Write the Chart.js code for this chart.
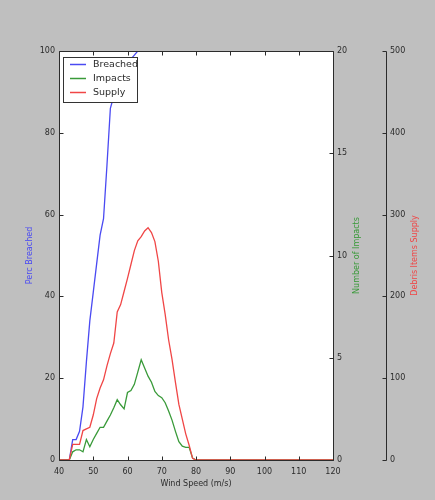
<!DOCTYPE html>
<html>
<head>
<meta charset="utf-8">
<script src="https://cdn.jsdelivr.net/npm/chart.js@4.4.0/dist/chart.umd.min.js"></script>
<style>
  html, body { margin: 0; padding: 0; background: #bfbfbf; }
  #chart { display: block; }
</style>
</head>
<body>
<canvas id="chart" width="435" height="500"></canvas>
<script>
// wind speed (m/s), one sample per 1 m/s
const windSpeed = [
  40, 41, 42, 43, 44, 45, 46, 47, 48, 49,
  50, 51, 52, 53, 54, 55, 56, 57, 58, 59,
  60, 61, 62, 63, 64, 65, 66, 67, 68, 69,
  70, 71, 72, 73, 74, 75, 76, 77, 78, 79,
  80, 81, 82, 83, 84, 85, 86, 87, 88, 89,
  90, 91, 92, 93, 94, 95, 96, 97, 98, 99,
  100, 101, 102, 103, 104, 105, 106, 107, 108, 109,
  110, 111, 112, 113, 114, 115, 116, 117, 118, 119,
  120
];

// percent breached
const breached = [
  0, 0, 0, 0, 5, 5, 7, 13, 24, 34,
  41, 48, 55, 59, 72, 86, 89, 91, 93, 95,
  97, 98, 99, 100, 100, 100, 100, 100, 100, 100,
  100, 100, 100, 100, 100, 100, 100, 100, 100, 100,
  100, 100, 100, 100, 100, 100, 100, 100, 100, 100,
  100, 100, 100, 100, 100, 100, 100, 100, 100, 100,
  100, 100, 100, 100, 100, 100, 100, 100, 100, 100,
  100, 100, 100, 100, 100, 100, 100, 100, 100, 100,
  100
];

// number of impacts
const impacts = [
  0, 0, 0, 0, 0.4, 0.5, 0.5, 0.4, 1.0, 0.65,
  1.0, 1.3, 1.6, 1.6, 1.9, 2.2, 2.55, 2.95, 2.7, 2.5,
  3.3, 3.4, 3.7, 4.3, 4.9, 4.5, 4.1, 3.8, 3.35, 3.15,
  3.05, 2.8, 2.4, 1.95, 1.4, 0.9, 0.68, 0.62, 0.62, 0.1,
  0, 0, 0, 0, 0, 0, 0, 0, 0, 0,
  0, 0, 0, 0, 0, 0, 0, 0, 0, 0,
  0, 0, 0, 0, 0, 0, 0, 0, 0, 0,
  0, 0, 0, 0, 0, 0, 0, 0, 0, 0,
  0
];

// debris items supply
const supply = [
  0, 0, 0, 0, 19, 19, 19, 36, 38, 40,
  55, 75, 88, 98, 115, 130, 143, 181, 190, 206,
  222, 239, 256, 268, 273, 280, 284, 278, 267, 243,
  205, 178, 147, 123, 95, 68, 50, 32, 18, 2,
  0, 0, 0, 0, 0, 0, 0, 0, 0, 0,
  0, 0, 0, 0, 0, 0, 0, 0, 0, 0,
  0, 0, 0, 0, 0, 0, 0, 0, 0, 0,
  0, 0, 0, 0, 0, 0, 0, 0, 0, 0,
  0
];

const xTicks = [40, 50, 60, 70, 80, 90, 100, 110, 120];
const breachedTicks = [0, 20, 40, 60, 80, 100];
const impactTicks = [0, 5, 10, 15, 20];
const supplyTicks = [0, 100, 200, 300, 400, 500];

const FONT = 'DejaVu Sans';
const BLUE = '#4a4af2';
const GREEN = '#399a39';
const RED = '#f04646';
const INK = '#2b2b2b';

function points(values) {
    return windSpeed.map((w, i) => ({x: w, y: values[i]}));
}

function fixedWidth(w) {
    return (scale) => { scale.width = w; };
}

/**
 * Grey figure, white axes, frame, inward ticks, axis titles and legend
 */
const decor = {
    id: 'decor',
    beforeDraw(chart) {
        const ctx = chart.ctx;
        const a = chart.chartArea;
        ctx.save();
        ctx.fillStyle = '#bfbfbf';
        ctx.fillRect(0, 0, chart.width, chart.height);
        ctx.fillStyle = '#ffffff';
        ctx.fillRect(a.left, a.top, a.right - a.left, a.bottom - a.top);
        ctx.restore();
    },
    afterDatasetsDraw(chart) {
        const ctx = chart.ctx;
        const a = chart.chartArea;
        const s = chart.scales;
        const px = (v) => Math.round(v) + 0.5;
        const L = px(a.left), R = px(a.right), T = px(a.top), B = px(a.bottom);
        const spine2 = px(s.y2.left);

        ctx.save();
        ctx.strokeStyle = INK;
        ctx.lineWidth = 1;
        ctx.beginPath();
        ctx.rect(L, T, R - L, B - T);
        ctx.moveTo(spine2, T);
        ctx.lineTo(spine2, B);

        // tick marks, pointing inward
        const tl = 4;
        xTicks.forEach((v) => {
            const x = px(s.x.getPixelForValue(v));
            ctx.moveTo(x, B); ctx.lineTo(x, B - tl);
            ctx.moveTo(x, T); ctx.lineTo(x, T + tl);
        });
        breachedTicks.forEach((v) => {
            const y = px(s.y.getPixelForValue(v));
            ctx.moveTo(L, y); ctx.lineTo(L + tl, y);
        });
        impactTicks.forEach((v) => {
            const y = px(s.y1.getPixelForValue(v));
            ctx.moveTo(R, y); ctx.lineTo(R - tl, y);
        });
        supplyTicks.forEach((v) => {
            const y = px(s.y2.getPixelForValue(v));
            ctx.moveTo(spine2, y); ctx.lineTo(spine2 - tl, y);
        });
        ctx.stroke();

        // axis titles
        const midY = (a.top + a.bottom) / 2;
        ctx.font = '8px "' + FONT + '"';
        ctx.textAlign = 'center';
        ctx.textBaseline = 'middle';
        ctx.fillStyle = INK;
        ctx.fillText('Wind Speed (m/s)', (a.left + a.right) / 2, 484);

        const vTitle = (text, x, color) => {
            ctx.save();
            ctx.translate(x, midY);
            ctx.rotate(-Math.PI / 2);
            ctx.fillStyle = color;
            ctx.fillText(text, 0, 0);
            ctx.restore();
        };
        vTitle('Perc Breached', 30, BLUE);
        vTitle('Number of Impacts', 357, GREEN);
        vTitle('Debris Items Supply', 415, RED);

        // legend box in the upper left corner
        const lx = a.left + 4, ly = a.top + 6;
        ctx.fillStyle = '#ffffff';
        ctx.fillRect(px(lx), px(ly), 74, 45);
        ctx.strokeStyle = '#333333';
        ctx.strokeRect(px(lx), px(ly), 74, 45);
        const entries = [['Breached', BLUE], ['Impacts', GREEN], ['Supply', RED]];
        ctx.font = '9.5px "' + FONT + '"';
        ctx.textAlign = 'left';
        entries.forEach((e, i) => {
            const y = ly + 7.5 + i * 14;
            ctx.strokeStyle = e[1];
            ctx.lineWidth = 1.5;
            ctx.beginPath();
            ctx.moveTo(lx + 7, y);
            ctx.lineTo(lx + 23, y);
            ctx.stroke();
            ctx.fillStyle = INK;
            ctx.fillText(e[0], lx + 30, y);
        });
        ctx.restore();
    }
};

const tickFont = {family: FONT, size: 8};

new Chart(document.getElementById('chart'), {
    type: 'line',
    data: {
        datasets: [{
            label: 'Breached',
            data: points(breached),
            borderColor: BLUE,
            yAxisID: 'y',
            order: 3
        }, {
            label: 'Impacts',
            data: points(impacts),
            borderColor: GREEN,
            yAxisID: 'y1',
            order: 2
        }, {
            label: 'Supply',
            data: points(supply),
            borderColor: RED,
            yAxisID: 'y2',
            order: 1
        }]
    },
    options: {
        responsive: false,
        animation: false,
        events: [],
        layout: {padding: {top: 51, left: 0, right: 0, bottom: 0}},
        elements: {
            line: {borderWidth: 1.3, tension: 0, fill: false},
            point: {radius: 0}
        },
        plugins: {
            legend: {display: false},
            tooltip: {enabled: false}
        },
        scales: {
            x: {
                type: 'linear',
                position: 'bottom',
                min: 40,
                max: 120,
                afterBuildTicks: (scale) => { scale.ticks = xTicks.map((v) => ({value: v})); },
                afterFit: (scale) => { scale.height = 40; },
                grid: {display: false, drawTicks: false},
                border: {display: false},
                ticks: {font: tickFont, color: INK, padding: 7, maxRotation: 0}
            },
            y: {
                position: 'left',
                min: 0,
                max: 100,
                afterBuildTicks: (scale) => { scale.ticks = breachedTicks.map((v) => ({value: v})); },
                afterFit: fixedWidth(59),
                grid: {display: false, drawTicks: false},
                border: {display: false},
                ticks: {font: tickFont, color: INK, padding: 4}
            },
            y1: {
                position: 'right',
                weight: 0,
                min: 0,
                max: 20,
                afterBuildTicks: (scale) => { scale.ticks = impactTicks.map((v) => ({value: v})); },
                afterFit: fixedWidth(53),
                grid: {display: false, drawTicks: false},
                border: {display: false},
                ticks: {font: tickFont, color: INK, padding: 4}
            },
            y2: {
                position: 'right',
                weight: 1,
                min: 0,
                max: 500,
                afterBuildTicks: (scale) => { scale.ticks = supplyTicks.map((v) => ({value: v})); },
                afterFit: fixedWidth(49),
                grid: {display: false, drawTicks: false},
                border: {display: false},
                ticks: {font: tickFont, color: INK, padding: 4}
            }
        }
    },
    plugins: [decor]
});
</script>
</body>
</html>
